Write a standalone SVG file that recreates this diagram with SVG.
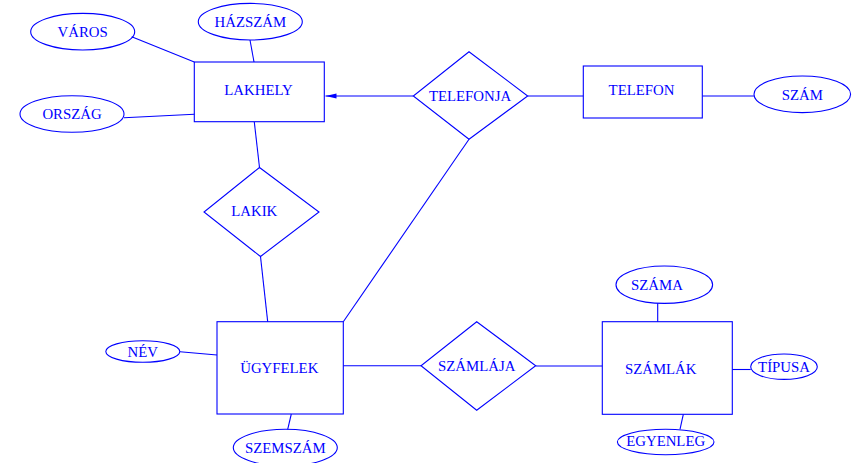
<svg xmlns="http://www.w3.org/2000/svg" width="855" height="463" viewBox="0 0 855 463">
<style>
.s{fill:none;stroke:#0000ff;stroke-width:1.1}
.c{stroke:#0000ff;stroke-width:1.1;fill:none}
text{font-family:"Liberation Serif","Times New Roman",serif;font-size:14.8px;fill:#0000ff;text-anchor:middle;dominant-baseline:central}
</style>
<defs>
<marker id="arr" markerWidth="12" markerHeight="6" refX="11" refY="3" orient="auto" markerUnits="userSpaceOnUse">
<path d="M0,0.5 L11,3 L0,5.5 Z" fill="#0000ff"/>
</marker>
</defs>
<g id="connectors">
<line class="c" x1="131.7" y1="36.7" x2="194.3" y2="62"/>
<line class="c" x1="250" y1="40" x2="254" y2="62"/>
<line class="c" x1="124" y1="117.7" x2="194.3" y2="114.3"/>
<line class="c" x1="413.3" y1="96" x2="325.5" y2="96" marker-end="url(#arr)"/>
<line class="c" x1="254.3" y1="122" x2="259.5" y2="167.5"/>
<line class="c" x1="260.5" y1="256.5" x2="267.7" y2="321.7"/>
<line class="c" x1="527.7" y1="96" x2="583.3" y2="96"/>
<line class="c" x1="702.3" y1="96" x2="754" y2="96"/>
<line class="c" x1="469" y1="139.3" x2="343.3" y2="321.7"/>
<line class="c" x1="180" y1="351.7" x2="217" y2="355"/>
<line class="c" x1="291.3" y1="414" x2="287.7" y2="429.3"/>
<line class="c" x1="343.3" y1="365.7" x2="421" y2="365.7"/>
<line class="c" x1="535.7" y1="366" x2="602.3" y2="366"/>
<line class="c" x1="657.7" y1="303.3" x2="657.7" y2="321.7"/>
<line class="c" x1="732.3" y1="369.5" x2="750.7" y2="369.5"/>
<line class="c" x1="683.3" y1="414.3" x2="680" y2="429.3"/>
</g>
<g id="varos"><ellipse class="s" cx="82.7" cy="31.7" rx="52" ry="18.3"/><text x="82.7" y="32">VÁROS</text></g>
<g id="hazszam"><ellipse class="s" cx="250.3" cy="21.7" rx="52" ry="18.3"/><text x="250.3" y="21.5">HÁZSZÁM</text></g>
<g id="orszag"><ellipse class="s" cx="72" cy="114" rx="52" ry="18.3"/><text x="72" y="114">ORSZÁG</text></g>
<g id="lakhely"><rect class="s" x="194.3" y="62" width="130" height="59.7"/><text x="258.5" y="90">LAKHELY</text></g>
<g id="lakik"><polygon class="s" points="259.5,167.5 319,212 260.5,256.5 204,212"/><text x="254.3" y="211">LAKIK</text></g>
<g id="telefonja"><polygon class="s" points="469,51.7 527.7,96 469,139.3 413.3,96"/><text x="470" y="95.5">TELEFONJA</text></g>
<g id="telefon"><rect class="s" x="583.3" y="66" width="119" height="52"/><text x="641.5" y="90">TELEFON</text></g>
<g id="szam"><ellipse class="s" cx="802.3" cy="94.3" rx="48.3" ry="18.3"/><text x="802.3" y="95">SZÁM</text></g>
<g id="nev"><ellipse class="s" cx="142.8" cy="351.5" rx="37" ry="10.8"/><text x="142.8" y="352">NÉV</text></g>
<g id="ugyfelek"><rect class="s" x="217" y="321.7" width="126.3" height="92.3"/><text x="279.3" y="368">ÜGYFELEK</text></g>
<g id="szemszam"><ellipse class="s" cx="285.3" cy="447.6" rx="52" ry="18.3"/><text x="285.3" y="448">SZEMSZÁM</text></g>
<g id="szamlaja"><polygon class="s" points="476.7,321.7 535.7,365.7 476.7,410.3 421,365.7"/><text x="476.7" y="366">SZÁMLÁJA</text></g>
<g id="szamlak"><rect class="s" x="602.3" y="321.7" width="130" height="92.6"/><text x="660.7" y="369">SZÁMLÁK</text></g>
<g id="szama"><ellipse class="s" cx="664.3" cy="284.7" rx="48.3" ry="18.7"/><text x="657" y="285">SZÁMA</text></g>
<g id="tipusa"><ellipse class="s" cx="784" cy="366.7" rx="33.3" ry="12.7"/><text x="784" y="367">TÍPUSA</text></g>
<g id="egyenleg"><ellipse class="s" cx="665.7" cy="442" rx="48.3" ry="12.7"/><text x="665.7" y="441">EGYENLEG</text></g>
</svg>
